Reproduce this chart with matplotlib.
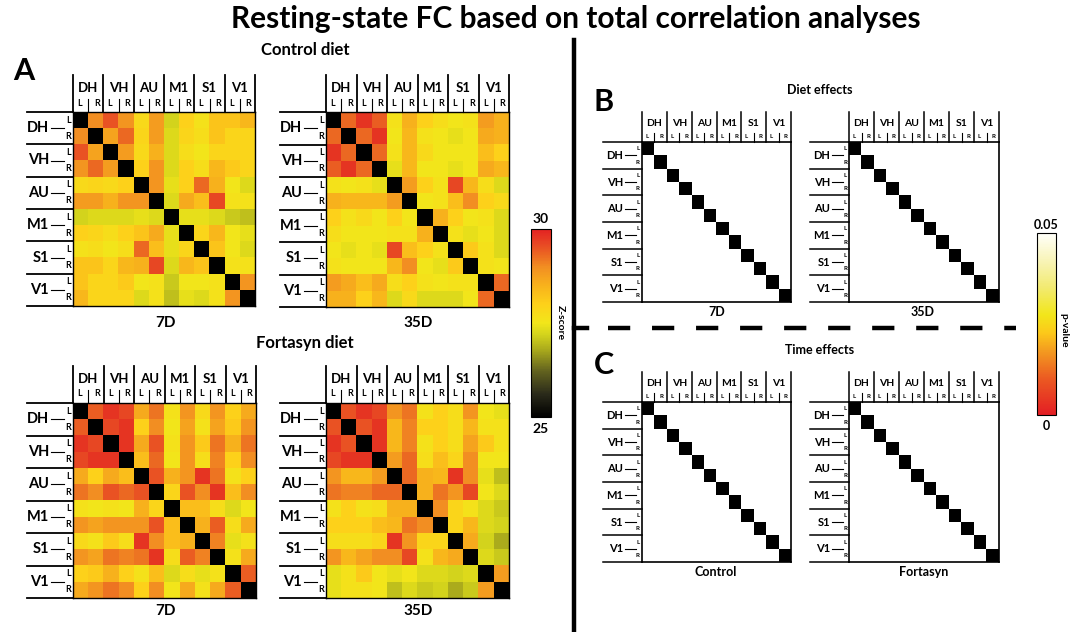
# Resting-state FC matrices (Z-score) and p-value maps for diet / time effects
import numpy as np
import matplotlib
matplotlib.use("Agg")
import matplotlib.pyplot as plt
from matplotlib.colors import LinearSegmentedColormap, Normalize
from matplotlib.cm import ScalarMappable

plt.rcParams['font.family'] = ['Lato', 'DejaVu Sans']
plt.rcParams['font.weight'] = 'bold'
plt.rcParams['lines.scale_dashes'] = False

regions = ["DH", "VH", "AU", "M1", "S1", "V1"]
hemis = ["L", "R"]

# Z-scores (rows/cols: DH L, DH R, VH L, VH R, AU L, AU R, M1 L, M1 R, S1 L, S1 R, V1 L, V1 R)
ctrl_7d = [
    [25.0, 29.0, 29.5, 28.9, 27.8, 28.8, 27.2, 28.0, 27.6, 28.2, 28.2, 28.4],
    [29.0, 25.0, 28.7, 29.3, 27.9, 28.8, 27.3, 27.9, 27.7, 28.2, 27.9, 27.9],
    [29.5, 28.7, 25.0, 28.8, 27.8, 28.5, 27.3, 27.7, 27.5, 27.9, 27.9, 27.9],
    [28.9, 29.3, 28.8, 25.0, 28.0, 28.9, 27.3, 28.0, 27.7, 28.4, 28.1, 27.9],
    [27.8, 27.9, 27.8, 28.0, 25.0, 28.9, 27.4, 28.0, 29.3, 28.5, 27.5, 27.3],
    [28.8, 28.8, 28.5, 28.9, 28.9, 25.0, 27.3, 28.6, 28.3, 29.6, 27.6, 27.6],
    [27.2, 27.3, 27.3, 27.3, 27.4, 27.3, 25.0, 27.4, 27.4, 27.3, 27.1, 27.0],
    [28.0, 27.9, 27.7, 28.0, 28.2, 28.6, 27.4, 25.0, 27.9, 28.4, 27.5, 27.4],
    [27.6, 27.7, 27.5, 27.7, 29.3, 28.3, 27.4, 27.9, 25.0, 28.2, 27.5, 27.3],
    [28.2, 28.2, 27.9, 28.4, 28.5, 29.6, 27.3, 28.4, 28.2, 25.0, 27.6, 27.6],
    [28.2, 27.9, 27.9, 28.1, 27.5, 27.6, 27.1, 27.5, 27.5, 27.6, 25.0, 28.9],
    [28.4, 27.9, 27.9, 27.9, 27.3, 27.6, 27.0, 27.4, 27.3, 27.6, 28.9, 25.0],
]
ctrl_35d = [
    [25.0, 29.3, 29.8, 29.4, 27.6, 28.5, 28.0, 27.7, 27.5, 27.6, 28.8, 28.5],
    [29.3, 25.0, 29.3, 29.8, 27.5, 28.4, 27.6, 27.5, 27.4, 27.5, 28.6, 28.5],
    [29.8, 29.3, 25.0, 29.3, 27.6, 28.4, 27.8, 27.5, 27.5, 27.5, 28.3, 28.0],
    [29.4, 29.8, 29.3, 25.0, 27.4, 28.4, 27.5, 27.5, 27.4, 27.5, 28.6, 28.4],
    [27.6, 27.5, 27.6, 27.4, 25.0, 28.8, 28.0, 27.6, 29.6, 28.4, 27.7, 27.3],
    [28.5, 28.4, 28.4, 28.4, 28.8, 25.0, 27.5, 27.6, 28.3, 29.0, 28.0, 27.8],
    [28.0, 27.6, 27.8, 27.5, 28.0, 27.5, 25.0, 28.5, 28.0, 27.5, 27.6, 27.3],
    [27.7, 27.5, 27.5, 27.5, 27.6, 27.6, 28.5, 25.0, 27.6, 27.4, 27.5, 27.3],
    [27.5, 27.4, 27.5, 27.4, 29.6, 28.3, 28.0, 27.6, 25.0, 28.1, 27.6, 27.3],
    [27.6, 27.5, 27.5, 27.5, 28.4, 29.0, 27.5, 27.4, 28.1, 25.0, 27.6, 27.5],
    [28.8, 28.6, 28.3, 28.6, 27.7, 28.0, 27.6, 27.5, 27.6, 27.6, 25.0, 29.3],
    [28.5, 28.5, 28.0, 28.4, 27.3, 27.8, 27.3, 27.3, 27.3, 27.5, 29.3, 25.0],
]
fort_7d = [
    [25.0, 29.4, 29.8, 29.6, 28.6, 29.2, 27.6, 28.9, 27.8, 28.9, 28.0, 28.6],
    [29.4, 25.0, 29.6, 29.8, 28.0, 29.0, 27.5, 28.7, 27.6, 28.7, 28.1, 28.9],
    [29.8, 29.6, 25.0, 29.8, 28.6, 29.5, 27.6, 28.9, 28.1, 29.2, 28.5, 29.2],
    [29.6, 29.8, 29.8, 25.0, 28.3, 29.3, 27.5, 28.9, 27.7, 29.1, 28.0, 29.0],
    [28.6, 28.0, 28.6, 28.3, 25.0, 29.5, 28.5, 28.9, 29.8, 29.2, 27.6, 28.0],
    [29.2, 29.0, 29.5, 29.3, 29.5, 25.0, 27.9, 29.5, 29.0, 29.8, 28.3, 29.0],
    [27.6, 27.5, 27.6, 27.5, 28.5, 27.9, 25.0, 28.3, 28.3, 27.7, 27.3, 27.5],
    [28.9, 28.7, 28.9, 28.9, 28.9, 29.5, 28.3, 25.0, 28.5, 29.4, 27.7, 28.6],
    [27.8, 27.6, 28.1, 27.7, 29.8, 29.0, 28.3, 28.5, 25.0, 29.1, 27.4, 27.6],
    [28.9, 28.7, 29.2, 29.1, 29.2, 29.8, 27.7, 29.4, 29.1, 25.0, 27.6, 28.6],
    [28.0, 28.1, 28.5, 28.0, 27.6, 28.3, 27.3, 27.7, 27.4, 27.6, 25.0, 29.4],
    [28.6, 28.9, 29.2, 29.0, 28.0, 29.0, 27.5, 28.6, 27.6, 28.6, 29.4, 25.0],
]
fort_35d = [
    [25.0, 29.5, 29.8, 29.6, 28.9, 29.2, 27.6, 28.0, 27.7, 28.9, 27.5, 27.4],
    [29.5, 25.0, 29.5, 29.8, 28.4, 29.1, 28.0, 28.0, 27.7, 28.4, 27.6, 27.6],
    [29.8, 29.5, 25.0, 29.8, 28.4, 29.1, 27.6, 28.0, 27.7, 28.7, 28.1, 27.6],
    [29.6, 29.8, 29.8, 25.0, 28.8, 29.3, 27.7, 28.3, 27.9, 29.0, 27.5, 27.5],
    [28.9, 28.4, 28.4, 28.8, 25.0, 29.3, 28.5, 28.4, 29.8, 29.0, 27.4, 27.0],
    [29.2, 29.1, 29.1, 29.3, 29.3, 25.0, 28.5, 29.2, 28.9, 29.6, 27.5, 27.3],
    [27.6, 28.0, 27.6, 27.7, 28.5, 28.5, 25.0, 29.0, 27.9, 27.6, 27.3, 27.1],
    [28.0, 28.0, 28.0, 28.3, 28.4, 29.2, 29.0, 25.0, 27.9, 28.4, 27.3, 27.2],
    [27.7, 27.7, 27.7, 27.9, 29.8, 28.9, 27.9, 27.9, 25.0, 28.6, 27.2, 26.8],
    [28.9, 28.4, 28.7, 29.0, 29.0, 29.6, 27.6, 28.4, 28.6, 25.0, 27.3, 27.1],
    [27.4, 27.6, 28.1, 27.5, 27.4, 27.5, 27.3, 27.3, 27.2, 27.3, 25.0, 28.8],
    [27.4, 27.6, 27.6, 27.5, 27.0, 27.3, 27.1, 27.2, 26.8, 27.1, 28.8, 25.0],
]

# p-value maps: no cell reaches p < 0.05 (shown white), diagonal undefined (black)
p_none = np.full((12, 12), 1.0)
p_none[np.diag_indices(12)] = np.nan
p_diet_7d = p_none.copy()
p_diet_35d = p_none.copy()
p_time_ctrl = p_none.copy()
p_time_fort = p_none.copy()

z_cmap = LinearSegmentedColormap.from_list("zscore", [
    (0.0, "#000000"), (0.12, "#2a2a1a"), (0.25, "#66661f"), (0.35, "#a6a61c"),
    (0.44, "#d4d41c"), (0.5, "#f2e61a"), (0.6, "#fdd11a"), (0.7, "#f8b21c"),
    (0.8, "#f28e22"), (0.86, "#ec6a22"), (0.92, "#e84824"), (1.0, "#e32222")])
z_norm = Normalize(25, 30)

p_cmap = LinearSegmentedColormap.from_list("pval", [
    (0.0, "#e31e24"), (0.2, "#eb5a22"), (0.35, "#f39a20"), (0.45, "#fcc81a"),
    (0.55, "#f2e61a"), (0.7, "#f2ea70"), (0.85, "#f8f4b8"), (1.0, "#fffffa")])
p_cmap.set_bad("black")
p_cmap.set_over("white")
p_norm = Normalize(0, 0.05)

W, H = 1070, 632
fig = plt.figure(figsize=(W / 100, H / 100), dpi=100)
ov = fig.add_axes([0, 0, 1, 1])
ov.set_xlim(0, W)
ov.set_ylim(H, 0)
ov.axis('off')
ov.set_zorder(10)


def px_axes(x0, y0, w, h):
    return fig.add_axes([x0 / W, 1 - (y0 + h) / H, w / W, h / H])


def draw_matrix(x0, y0, x1, y1, values, cmap, norm, big=True):
    ax = px_axes(x0, y0, x1 - x0, y1 - y0)
    ax.imshow(values, cmap=cmap, norm=norm, aspect='auto', interpolation='nearest')
    ax.set_xticks([])
    ax.set_yticks([])
    for s in ax.spines.values():
        s.set_linewidth(1.0 if big else 1.2)
    cw = (x1 - x0) / 12
    ch = (y1 - y0) / 12
    if big:
        top, grp_y, lr_y, tick = y0 - 37, y0 - 24, y0 - 9, 13
        left, grp_x, dash0, dash1 = x0 - 46, x0 - 24, x0 - 22, x0 - 9
        fs_g, fs_lr, fs_left, fs_rl, lw = 9.5, 6.5, 10.5, 6.5, 1.3
    else:
        top, grp_y, lr_y, tick = y0 - 30, y0 - 19, y0 - 6, 9
        left, grp_x, dash0, dash1 = x0 - 39, x0 - 19, x0 - 17, x0 - 6
        fs_g, fs_lr, fs_left, fs_rl, lw = 7.5, 4.5, 8, 4.5, 1.1
    for k in range(7):
        ov.plot([x0 + 2 * k * cw] * 2, [top, y0], color='black', lw=lw)
        ov.plot([left, x0], [y0 + 2 * k * ch] * 2, color='black', lw=lw)
    for g, name in enumerate(regions):
        ov.text(x0 + (2 * g + 1) * cw, grp_y, name, ha='center', va='center', fontsize=fs_g)
        ov.plot([x0 + (2 * g + 1) * cw] * 2, [y0 - tick, y0], color='black', lw=0.8)
        ov.text(grp_x, y0 + (2 * g + 1) * ch, name, ha='right', va='center', fontsize=fs_left)
        ov.plot([dash0, dash1], [y0 + (2 * g + 1) * ch] * 2, color='black', lw=0.8)
        for h, hs in enumerate(hemis):
            i = 2 * g + h
            ov.text(x0 + (i + 0.5) * cw - (1 if h == 0 else -1), lr_y, hs, ha='center',
                    va='center', fontsize=fs_lr)
            ov.text(x0 - 2, y0 + (i + 0.5) * ch, hs, ha='right', va='center', fontsize=fs_rl)
    return ax


# title and panel headers
ov.text(576, 19, "Resting-state FC based on total correlation analyses", ha='center',
        va='center', fontsize=21.5)
ov.text(24, 71, "A", ha='center', va='center', fontsize=22)
ov.text(305, 50, "Control diet", ha='center', va='center', fontsize=12)
ov.text(305, 343, "Fortasyn diet", ha='center', va='center', fontsize=12)
ov.text(604, 102, "B", ha='center', va='center', fontsize=22)
ov.text(604, 365, "C", ha='center', va='center', fontsize=22)
ov.text(820, 90, "Diet effects", ha='center', va='center', fontsize=9)
ov.text(820, 350, "Time effects", ha='center', va='center', fontsize=9)

# panel A
draw_matrix(73, 112, 255, 306, ctrl_7d, z_cmap, z_norm)
draw_matrix(326, 112, 509, 307, ctrl_35d, z_cmap, z_norm)
draw_matrix(73, 403, 256, 598, fort_7d, z_cmap, z_norm)
draw_matrix(326, 403, 509, 598, fort_35d, z_cmap, z_norm)
ov.text(165, 323, "7D", ha='center', va='center', fontsize=11)
ov.text(418, 323, "35D", ha='center', va='center', fontsize=11)
ov.text(165, 611, "7D", ha='center', va='center', fontsize=11)
ov.text(418, 611, "35D", ha='center', va='center', fontsize=11)

# panels B and C
draw_matrix(642, 142, 791, 302, p_diet_7d, p_cmap, p_norm, big=False)
draw_matrix(849, 142, 999, 302, p_diet_35d, p_cmap, p_norm, big=False)
draw_matrix(642, 402, 791, 562, p_time_ctrl, p_cmap, p_norm, big=False)
draw_matrix(849, 402, 999, 562, p_time_fort, p_cmap, p_norm, big=False)
ov.text(717, 312, "7D", ha='center', va='center', fontsize=9)
ov.text(923, 312, "35D", ha='center', va='center', fontsize=9)
ov.text(716, 572, "Control", ha='center', va='center', fontsize=9)
ov.text(924, 572, "Fortasyn", ha='center', va='center', fontsize=9)

# colour bars
cax = px_axes(531, 229, 20, 188)
cb = fig.colorbar(ScalarMappable(z_norm, z_cmap), cax=cax)
cb.set_ticks([])
cb.outline.set_linewidth(0.8)
ov.text(541, 219, "30", ha='center', va='center', fontsize=10)
ov.text(541, 429, "25", ha='center', va='center', fontsize=10)
ov.text(560, 323, "Z-score", ha='center', va='center', fontsize=7.5, rotation=-90)

pax = px_axes(1037, 233, 19, 182)
pb = fig.colorbar(ScalarMappable(p_norm, p_cmap), cax=pax)
pb.set_ticks([])
pb.outline.set_linewidth(0.8)
ov.text(1046, 225, "0.05", ha='center', va='center', fontsize=9)
ov.text(1046, 426, "0", ha='center', va='center', fontsize=9)
ov.text(1064, 330, "p-value", ha='center', va='center', fontsize=7.5, rotation=-90)

# separators
ov.plot([574, 574], [40, 632], color='black', lw=3.2)
ov.plot([574, 587], [328, 328], color='black', lw=3.2)
ov.plot([608, 1016], [328, 328], color='black', lw=3.2, dashes=(16, 15.7))

fig.savefig("out.png", dpi=100)
